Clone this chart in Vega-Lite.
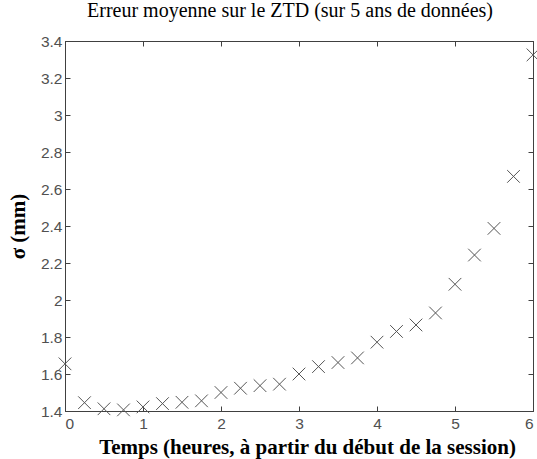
{
  "$schema": "https://vega.github.io/schema/vega-lite/v6.json",
  "width": 468,
  "height": 370,
  "autosize": {"type": "none"},
  "padding": {"left": 65, "top": 41, "right": 4, "bottom": 48},
  "background": "white",
  "title": {"text": "Erreur moyenne sur le ZTD (sur 5 ans de données)", "font": "Liberation Serif", "fontSize": 20, "fontWeight": "normal", "color": "black", "offset": 13, "anchor": "middle", "dx": -9},
  "config": {
    "view": {"stroke": "#404040", "strokeWidth": 1},
    "axis": {"grid": false, "domainColor": "#404040", "tickColor": "#404040", "labelFont": "Liberation Sans", "labelFontSize": 15.5, "labelColor": "#505050", "titleFont": "Liberation Serif", "titleFontSize": 21, "titleFontWeight": "bold", "titleColor": "black", "format": "~g"}
  },
  "data": {"values": [
    {"t": 0, "s": 1.655},
    {"t": 0.25, "s": 1.445},
    {"t": 0.5, "s": 1.412},
    {"t": 0.75, "s": 1.406},
    {"t": 1.0, "s": 1.422},
    {"t": 1.25, "s": 1.44},
    {"t": 1.5, "s": 1.447},
    {"t": 1.75, "s": 1.455},
    {"t": 2.0, "s": 1.5},
    {"t": 2.25, "s": 1.523},
    {"t": 2.5, "s": 1.537},
    {"t": 2.75, "s": 1.545},
    {"t": 3.0, "s": 1.6},
    {"t": 3.25, "s": 1.64},
    {"t": 3.5, "s": 1.662},
    {"t": 3.75, "s": 1.687},
    {"t": 4.0, "s": 1.772},
    {"t": 4.25, "s": 1.83},
    {"t": 4.5, "s": 1.865},
    {"t": 4.75, "s": 1.93},
    {"t": 5.0, "s": 2.085},
    {"t": 5.25, "s": 2.243},
    {"t": 5.5, "s": 2.387},
    {"t": 5.75, "s": 2.668},
    {"t": 6.0, "s": 3.325}
  ]},
  "layer": [
    {
      "mark": {"type": "point", "shape": "M-1,-1L1,1M-1,1L1,-1", "filled": false, "stroke": "#555", "strokeWidth": 1, "size": 160, "opacity": 1},
      "encoding": {
        "x": {"field": "t", "type": "quantitative", "scale": {"domain": [0, 6], "nice": false, "zero": false},
              "axis": {"orient": "bottom", "values": [0,1,2,3,4,5,6], "tickSize": -5, "labelPadding": 10, "title": "Temps (heures, à partir du début de la session)", "titlePadding": 5, "titleX": 242}},
        "y": {"field": "s", "type": "quantitative", "scale": {"domain": [1.4, 3.4], "nice": false, "zero": false},
              "axis": {"orient": "left", "values": [1.4,1.6,1.8,2,2.2,2.4,2.6,2.8,3,3.2,3.4], "tickSize": -5, "labelPadding": 8, "title": "σ (mm)", "titlePadding": 12}}
      }
    },
    {
      "mark": {"type": "point", "opacity": 0},
      "encoding": {
        "x": {"field": "t", "type": "quantitative", "scale": {"domain": [0, 6], "nice": false, "zero": false},
              "axis": {"orient": "top", "values": [0,1,2,3,4,5,6], "tickSize": -5, "labels": false, "title": null}},
        "y": {"field": "s", "type": "quantitative", "scale": {"domain": [1.4, 3.4], "nice": false, "zero": false},
              "axis": {"orient": "right", "values": [1.4,1.6,1.8,2,2.2,2.4,2.6,2.8,3,3.2,3.4], "tickSize": -5, "labels": false, "title": null}}
      }
    }
  ],
  "resolve": {"axis": {"x": "independent", "y": "independent"}}
}
